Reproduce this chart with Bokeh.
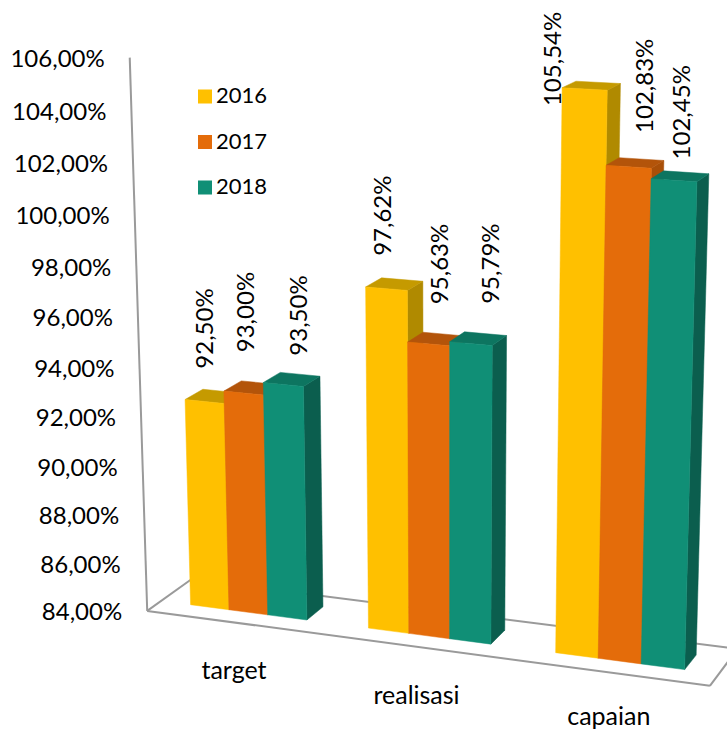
import numpy as np
from bokeh.plotting import figure
from bokeh.models import ColumnDataSource
from bokeh.core.properties import value
from bokeh.embed import file_html
from bokeh.resources import INLINE

categories = ["target", "realisasi", "capaian"]
years = ["2016", "2017", "2018"]
values_2016 = [92.50, 97.62, 105.54]
values_2017 = [93.00, 95.63, 102.83]
values_2018 = [93.50, 95.79, 102.45]
tick_values = [106, 104, 102, 100, 98, 96, 94, 92, 90, 88, 86, 84]

front_colors = ["#FFC000", "#E46C0A", "#108F76"]
top_colors = ["#C59A00", "#B3540A", "#0D7560"]
side_colors = ["#B08A00", "#A94F08", "#0B5E4E"]
AXIS_MIN, AXIS_MAX = 84.0, 106.0
FONT = "Lato"

BAR_W = 0.0733
Z_FRONT, Z_BACK = 0.31, 0.71


def yfrac(v):
    return (v - AXIS_MIN) / (AXIS_MAX - AXIS_MIN)


# Camera: a projective map from chart space (along, value, depth) to the page,
# fitted to the chart's frame and its bar corners.
def x_of(cat, ser, right=False):
    return (2 * cat + 1) / 6 + (ser - 1.5 + (1 if right else 0)) * BAR_W


anchors = [
    ((0, 0, 0), (147, 610)), ((1, 0, 0), (710, 686)), ((0, 1, 0), (129, 57)),
    ((0, 0, 1), (189, 579)), ((1, 0, 1), (737, 647)), ((0, yfrac(96), 0), (137.4, 315)),
    ((x_of(0, 0), 0, Z_FRONT), (190, 604)), ((x_of(0, 2, True), 0, Z_FRONT), (307, 619)),
    ((x_of(2, 0), 0, Z_FRONT), (552, 653)), ((x_of(2, 2, True), 0, Z_FRONT), (685, 669)),
    ((x_of(2, 0), yfrac(105.54), Z_FRONT), (558, 88)), ((x_of(2, 2, True), yfrac(102.45), Z_FRONT), (697, 180)),
    ((x_of(0, 2, True), yfrac(93.5), Z_FRONT), (304, 387)), ((x_of(1, 0), yfrac(97.62), Z_FRONT), (365, 287)),
    ((x_of(0, 2, True), yfrac(93.5), Z_BACK), (321, 376)), ((x_of(2, 0, True), yfrac(105.54), Z_BACK), (621, 83)),
    ((x_of(0, 2, True), 0, Z_BACK), (324, 607)), ((x_of(2, 0, True), yfrac(105.54), Z_FRONT), (608, 90)),
]
A, b = [], []
for (X, Y, Z), (u, v) in anchors:
    A.append([X, Y, Z, 1, 0, 0, 0, 0, -u * X, -u * Y, -u * Z]); b.append(u)
    A.append([0, 0, 0, 0, X, Y, Z, 1, -v * X, -v * Y, -v * Z]); b.append(v)
P = np.append(np.linalg.lstsq(np.array(A, float), np.array(b, float), rcond=None)[0], 1.0).reshape(3, 4)


def proj(X, Y, Z):
    r = P @ np.array([X, Y, Z, 1.0])
    return float(r[0] / r[2]), float(r[1] / r[2])


p = figure(width=727, height=731, x_range=(0, 727), y_range=(731, 0), toolbar_location=None,
           output_backend="svg", min_border=0, outline_line_color=None)
p.xaxis.visible = False
p.yaxis.visible = False
p.xgrid.visible = False
p.ygrid.visible = False

# Frame
frame = [((0, 1, 0), (0, 0, 0)), ((0, 0, 0), (1, 0, 0)), ((0, 0, 0), (0, 0, 1)),
         ((0, 0, 1), (1, 0, 1)), ((1, 0, 0), (1, 0, 1))]
p.multi_line([[proj(*a)[0], proj(*c)[0]] for a, c in frame], [[proj(*a)[1], proj(*c)[1]] for a, c in frame],
             line_color="#9A9A9A", line_width=2)

# Bars
series = [values_2016, values_2017, values_2018]
xs, ys, cols = [], [], []
for c in range(len(categories)):
    for s, vals in enumerate(series):
        x0, x1, h = x_of(c, s), x_of(c, s, True), yfrac(vals[c])
        faces = [
            ([(x1, 0, Z_FRONT), (x1, 0, Z_BACK), (x1, h, Z_BACK), (x1, h, Z_FRONT)], side_colors[s]),
            ([(x0, h, Z_FRONT), (x1, h, Z_FRONT), (x1, h, Z_BACK), (x0, h, Z_BACK)], top_colors[s]),
            ([(x0, 0, Z_FRONT), (x1, 0, Z_FRONT), (x1, h, Z_FRONT), (x0, h, Z_FRONT)], front_colors[s]),
        ]
        for pts, col in faces:
            q = [proj(*pt) for pt in pts]
            xs.append([a for a, _ in q]); ys.append([b_ for _, b_ in q]); cols.append(col)
p.patches(xs="xs", ys="ys", fill_color="cols", line_color="cols", line_width=0.5,
          source=ColumnDataSource(dict(xs=xs, ys=ys, cols=cols)))

# Value-axis labels
tx, ty = zip(*[proj(0, yfrac(t), 0) for t in tick_values])
p.text([a - 25 for a in tx], list(ty), text=[f"{t},00%" for t in tick_values],
       text_font=value(FONT), text_font_size="24px", text_color="#000000",
       text_align="right", text_baseline="middle")

# Category labels
cx, cy = zip(*[proj((2 * i + 1) / 6, 0, 0) for i in range(3)])
cat_dy = [46, 47, 43]
p.text([a - 1 for a in cx], [a + d for a, d in zip(cy, cat_dy)], text=categories, text_font=value(FONT),
       text_font_size="25px", text_color="#000000", text_align="center", text_baseline="middle")

# Data labels
nudges = [[(-1, -73), (-5, -73), (-33, -30)], [(1, -81), (10, -80), (15, -81)], [(14, -69), (19, -80), (7, -68)]]
lx, ly, lt = [], [], []
for s, vals in enumerate(series):
    for c, v in enumerate(vals):
        a, d = proj((x_of(c, s) + x_of(c, s, True)) / 2, yfrac(v), Z_FRONT)
        lx.append(a + nudges[s][c][0]); ly.append(d + nudges[s][c][1])
        lt.append(f"{v:.2f}%".replace(".", ","))
p.text(lx, ly, text=lt, angle=np.pi / 2, text_font=value(FONT), text_font_size="24px", text_color="#000000",
       text_align="center", text_baseline="middle")

# Legend
LEG_X, LEG_Y, LEG_STEP = 204.5, 96, 45.5
for i, y in enumerate(years):
    p.scatter([LEG_X], [LEG_Y + i * LEG_STEP], marker="square", size=14, fill_color=front_colors[i], line_color=None)
    p.text([LEG_X + 11], [LEG_Y - 1 + i * LEG_STEP], text=[y], text_font=value(FONT), text_font_size="22px",
           text_color="#000000", text_baseline="middle")

open("out.html", "w").write(file_html(p, INLINE))
